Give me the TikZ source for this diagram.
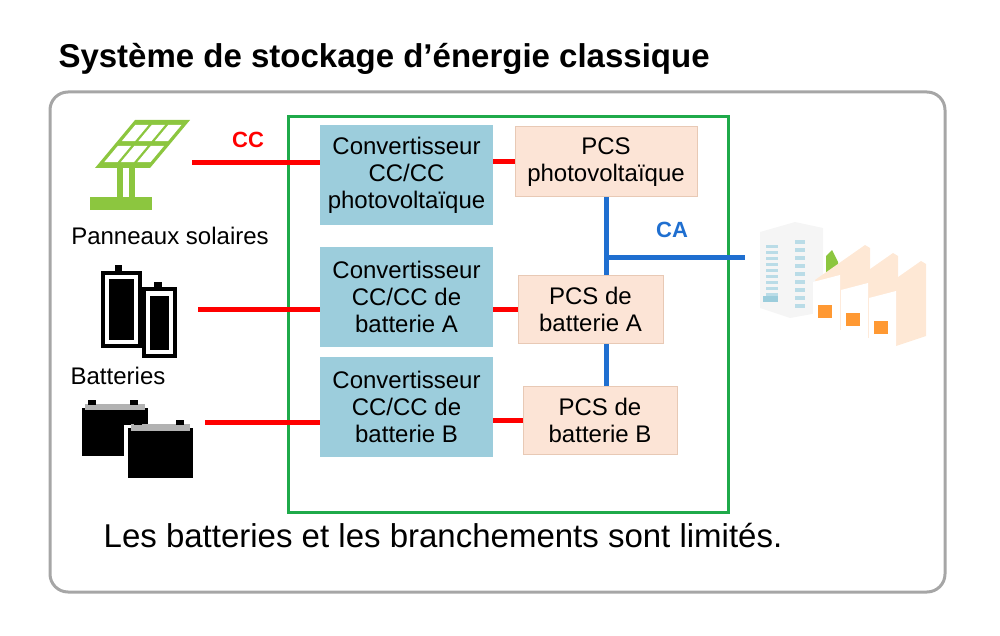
\documentclass[tikz,border=0pt]{standalone}
\usepackage{fontspec}
\setmainfont{Liberation Sans}
\begin{document}
\begin{tikzpicture}[x=1pt,y=-1pt,
  conv/.style={fill=convblue,draw=none,align=center,font=\fontsize{24}{27}\selectfont,inner sep=0},
  pcs/.style={fill=pcsfill,draw=pcsdraw,line width=1pt,align=center,font=\fontsize{24}{27}\selectfont,inner sep=0},
  dc/.style={draw=red,line width=5pt},
  ac/.style={draw=acblue,line width=5pt},
  lbl/.style={font=\fontsize{24}{27}\selectfont,anchor=base}]
\definecolor{convblue}{HTML}{9CCDDC}
\definecolor{pcsfill}{HTML}{FCE4D6}
\definecolor{pcsdraw}{HTML}{E8C9B5}
\definecolor{acblue}{HTML}{1F6FD0}
\definecolor{solar}{HTML}{8CC63F}
\definecolor{grn}{HTML}{1FAA4A}
\useasboundingbox (0,0) rectangle (1000,636);
\node[anchor=base west,font=\bfseries\fontsize{33}{36}\selectfont] (title) at (55,68) {Système de stockage d’énergie classique};
\draw[draw=gray!70,line width=3pt,rounded corners=18] (50,92) rectangle (945,592);
\draw[draw=grn,line width=3pt] (288,117) rectangle (728,512);
\coordinate (bus) at (606,257);
\coordinate (load) at (745,257);
\draw[ac] (606,190) -- (606,400);
\draw[ac] (bus) -- (load);
% converters
\node[conv,minimum width=173,minimum height=100] (c1) at (406.5,175) {Convertisseur\\CC/CC\\photovoltaïque};
\node[conv,minimum width=173,minimum height=100] (c2) at (406.5,297) {Convertisseur\\CC/CC de\\batterie A};
\node[conv,minimum width=173,minimum height=100] (c3) at (406.5,407) {Convertisseur\\CC/CC de\\batterie B};
\node[pcs,minimum width=182,minimum height=70] (p1) at (606,162) {PCS\\photovoltaïque};
\node[pcs,minimum width=145,minimum height=68] (p2) at (590.5,309) {PCS de\\batterie A};
\node[pcs,minimum width=154,minimum height=68] (p3) at (600,420) {PCS de\\batterie B};
\coordinate (s1) at (192,163);
\coordinate (s2) at (198,309);
\coordinate (s3) at (205,422);
\draw[dc] (s1) -- (s1 -| c1.west);
\draw[dc] (s2) -- (s2 -| c2.west);
\draw[dc] (s3) -- (s3 -| c3.west);
\draw[dc] (c1.east |- p1) -- (p1.west);
\draw[dc] (c2.east |- p2) -- (p2.west);
\draw[dc] (c3.east |- p3) -- (p3.west);
\node[font=\bfseries\fontsize{22}{24}\selectfont,text=acblue] (ca) at (672,230) {CA};
\node[font=\bfseries\fontsize{22}{24}\selectfont,text=red] (cc) at (248,140) {CC};
\node[lbl] (pan) at (170,244) {Panneaux solaires};
\node[lbl] (bat) at (118,384) {Batteries};
\node[anchor=base,font=\fontsize{33}{38}\selectfont] (bottom) at (443,547) {Les batteries et les branchements sont limités.};
% solar panel icon
\fill[solar] (95,168) -- (150,168) -- (190,120) -- (135,120) -- cycle;
\foreach \i in {0,1,2} \foreach \j in {0,1}{
  \pgfmathsetmacro\ua{0.08+\i*0.3}\pgfmathsetmacro\ub{\ua+0.24}
  \pgfmathsetmacro\va{0.12+\j*0.44}\pgfmathsetmacro\vb{\va+0.34}
  \fill[white] ({95+55*\ua+40*\va},{168-48*\va}) -- ({95+55*\ub+40*\va},{168-48*\va}) -- ({95+55*\ub+40*\vb},{168-48*\vb}) -- ({95+55*\ua+40*\vb},{168-48*\vb}) -- cycle;}
\fill[solar] (117,168) rectangle (123,197);
\fill[solar] (129,168) rectangle (135,197);
\fill[solar] (90,197) rectangle (152,210);
% cylinder batteries
\begin{scope}[line width=4pt]
\fill[black] (115,265) rectangle (122,272);
\draw (103,273) rectangle (140,346);
\fill (109,279) rectangle (134,340);
\fill[black] (154,282) rectangle (162,288);
\draw (144,289) rectangle (175,356);
\fill (150,296) rectangle (169,350);
\end{scope}
% block batteries
\fill[black] (82,408) rectangle (148,456);
\fill[gray!60] (85,404) rectangle (145,410);
\fill[black] (88,400) rectangle (96,405);\fill[black] (130,400) rectangle (138,405);
\fill[white] (124,425) rectangle (197,480);
\fill[black] (128,428) rectangle (193,478);
\fill[gray!60] (131,424) rectangle (190,431);
\fill[black] (134,420) rectangle (142,425);\fill[black] (176,420) rectangle (184,425);
% buildings
\fill[gray!8] (760,232) -- (795,222) -- (823,228) -- (823,312) -- (790,318) -- (760,308) -- cycle;
\foreach \k in {0,...,8}{\fill[convblue!70] (766,{245+\k*6}) rectangle (778,{248+\k*6});
  \fill[convblue!70] (795,{240+\k*8}) rectangle (805,{244+\k*8});}
\fill[convblue] (763,296) rectangle (778,302);
\fill[solar] (826,256) -- (832,250) -- (838,262) -- (838,272) -- (826,272) -- cycle;
\foreach \k in {0,1,2}{
  \fill[pcsfill!70!orange!40] ({815+\k*28},{280+\k*8}) -- ({865+\k*28},{245+\k*8}) -- ({870+\k*28},{248+\k*8}) -- ({870+\k*28},{320+\k*8}) -- ({840+\k*28},{330+\k*8}) -- cycle;
  \fill[white] ({813+\k*28},{282+\k*8}) -- ({840+\k*28},{275+\k*8}) -- ({840+\k*28},{330+\k*8}) -- ({813+\k*28},{322+\k*8}) -- cycle;
  \fill[orange!80] ({818+\k*28},{305+\k*8}) rectangle ({832+\k*28},{318+\k*8});}
\end{tikzpicture}
\end{document}
